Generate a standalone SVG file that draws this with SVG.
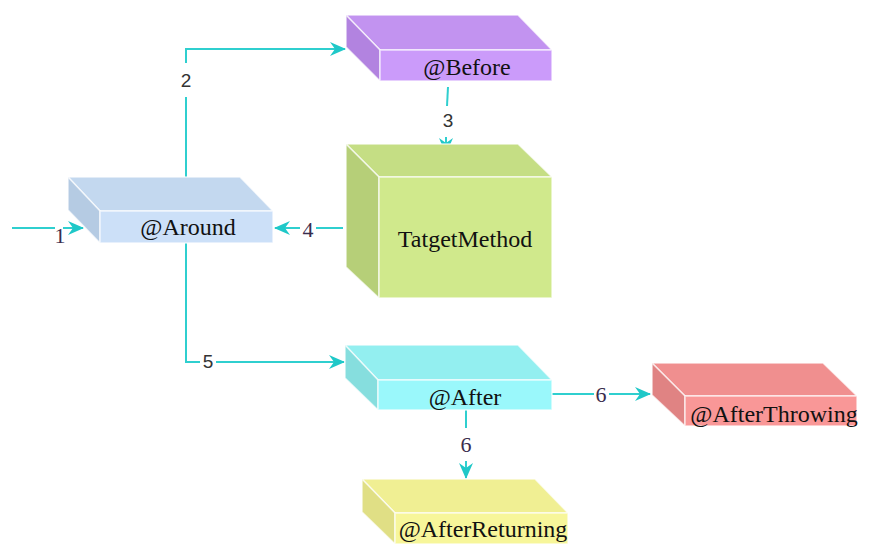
<svg xmlns="http://www.w3.org/2000/svg" width="877" height="556" viewBox="0 0 877 556">
<style>
.f{stroke:#ffffff;stroke-opacity:0.7;stroke-width:1.5;stroke-linejoin:round}
.t{font-family:"Liberation Serif","DejaVu Serif",serif;font-size:24px;fill:#111;text-anchor:middle}
.c{fill:none;stroke:#2fcfcf;stroke-width:2}
.ls{font-family:"Liberation Sans","DejaVu Sans",sans-serif;font-size:19px;fill:#333;text-anchor:middle}
.lr{font-family:"Liberation Serif","DejaVu Serif",serif;font-size:22px;fill:#3a2d4d;text-anchor:middle}
</style>
<defs>
<marker id="ah" markerWidth="16" markerHeight="14" viewBox="0 0 16 14" refX="15" refY="7" orient="auto" markerUnits="userSpaceOnUse">
<path d="M0,0 L16,7 L0,14 L5,7 Z" fill="#1fc8c8"/>
</marker>
</defs>
<rect width="877" height="556" fill="#ffffff"/>
<g id="connectors">
<path class="c" d="M12,228 H55"/><path class="c" d="M63,228 H83" marker-end="url(#ah)"/>
<path class="c" d="M186,177 V97"/><path class="c" d="M186,63 V49 H345" marker-end="url(#ah)"/>
<path class="c" d="M448,87 L447,106"/><path class="c" d="M446,137 V153" marker-end="url(#ah)"/>
<path class="c" d="M343,228 H316"/><path class="c" d="M300,228 H275" marker-end="url(#ah)"/>
<path class="c" d="M186,243 V362 H200"/><path class="c" d="M216,362 H344" marker-end="url(#ah)"/>
<path class="c" d="M552,394 H594"/><path class="c" d="M609,394 H650" marker-end="url(#ah)"/>
<path class="c" d="M466,410 V428"/><path class="c" d="M466,461 V478" marker-end="url(#ah)"/>
<text class="lr" x="60" y="243">1</text>
<text class="ls" x="186" y="87">2</text>
<text class="ls" x="448" y="127">3</text>
<text class="lr" x="308" y="237">4</text>
<text class="ls" x="208" y="368">5</text>
<text class="lr" x="601" y="402">6</text>
<text class="lr" x="466" y="452">6</text>
</g>
<g id="around">
<polygon class="f" points="68,177 240,177 273,211 100,211" fill="#c3d8ef"/>
<polygon class="f" points="68,177 100,211 100,243 68,210" fill="#b5cbe3"/>
<rect class="f" x="100" y="211" width="173" height="32" fill="#cce0f8"/>
<text class="t" x="188" y="235">@Around</text>
</g>
<g id="before">
<polygon class="f" points="346,15 518,15 552,50 380,50" fill="#c293f0"/>
<polygon class="f" points="346,15 380,50 380,81 346,47" fill="#b283e0"/>
<rect class="f" x="380" y="50" width="172" height="31" fill="#cb9bfa"/>
<text class="t" x="467" y="75">@Before</text>
</g>
<g id="target">
<polygon class="f" points="346,144 518,144 552,177 379,177" fill="#c5de84"/>
<polygon class="f" points="346,144 379,177 379,298 346,267" fill="#b6cf78"/>
<rect class="f" x="379" y="177" width="173" height="121" fill="#d0e98c"/>
<text class="t" x="465" y="247">TatgetMethod</text>
</g>
<g id="after">
<polygon class="f" points="345,345 518,345 552,380 378,380" fill="#93eff0"/>
<polygon class="f" points="345,345 378,380 378,410 345,378" fill="#86dede"/>
<rect class="f" x="378" y="380" width="174" height="30" fill="#9af8fb"/>
<text class="t" x="465" y="405">@After</text>
</g>
<g id="afterThrowing">
<polygon class="f" points="652,363 823,363 857,396 685,396" fill="#f08f8f"/>
<polygon class="f" points="652,363 685,396 685,426 652,395" fill="#e08383"/>
<rect class="f" x="685" y="396" width="172" height="30" fill="#f99797"/>
<text class="t" x="774" y="422">@AfterThrowing</text>
</g>
<g id="afterReturning">
<polygon class="f" points="362,479 535,479 568,513 395,513" fill="#f0ef93"/>
<polygon class="f" points="362,479 395,513 395,544 362,512" fill="#e0df85"/>
<rect class="f" x="395" y="513" width="173" height="31" fill="#f7f69a"/>
<text class="t" x="483" y="537">@AfterReturning</text>
</g>
</svg>
